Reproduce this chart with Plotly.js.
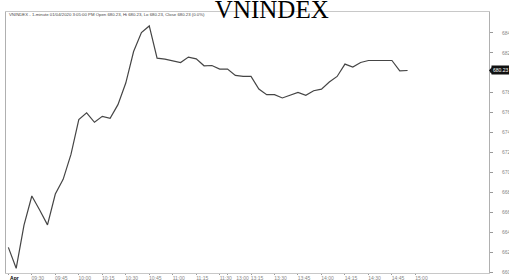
<!DOCTYPE html>
<html><head><meta charset="utf-8">
<script src="https://cdn.plot.ly/plotly-3.0.1.min.js"></script>
<style>html,body{margin:0;padding:0;background:#fff;overflow:hidden}#chart{width:509px;height:280px}</style>
</head><body><div id="chart"></div>
<script>
const chartTitle = "VNINDEX";
const headerText = "VNINDEX - 1-minute 01/04/2020 3:05:00 PM Open 680.23, Hi 680.23, Lo 680.23, Close 680.23 (0.0%)";

const times = [
  "09:15","09:20","09:25","09:30","09:35","09:40","09:45","09:50","09:55",
  "10:00","10:05","10:10","10:15","10:20","10:25","10:30","10:35","10:40",
  "10:45","10:50","10:55","11:00","11:05","11:10","11:15","11:20","11:25","11:30",
  "13:00","13:05","13:10","13:15","13:20","13:25","13:30","13:35","13:40",
  "13:45","13:50","13:55","14:00","14:05","14:10","14:15","14:20","14:25",
  "14:30","14:35","14:40","14:45","14:50","14:55"
];
const closeValues = [
  662.47, 660.37, 664.70, 667.63, 666.23, 664.73, 667.83, 669.30, 671.80,
  675.30, 675.97, 675.03, 675.63, 675.43, 676.80, 678.97, 682.13, 684.03,
  684.70, 681.47, 681.37, 681.17, 681.03, 681.57, 681.40, 680.70, 680.73, 680.37,
  680.37, 679.73, 679.63, 679.63, 678.37, 677.80, 677.80, 677.47, 677.73,
  678.03, 677.73, 678.20, 678.35, 679.07, 679.63, 680.87, 680.57, 681.03,
  681.23, 681.23, 681.23, 681.23, 680.20, 680.23
];
const tickTimes = ["09:15","09:30","09:45","10:00","10:15","10:30","10:45","11:00","11:15","11:30","13:00","13:15","13:30","13:45","14:00","14:15","14:30","14:45","15:00"];
const tickLabels = ["<b><span style=\"color:#000\">Apr</span></b>","09:30","09:45","10:00","10:15","10:30","10:45","11:00","11:15","11:30","&#160;&#160;&#160;&#160;&#160;&#160;&#160;&#160;&#160;&#160;&#160;&#160;&#160;13:00","13:15","13:30","13:45","14:00","14:15","14:30","14:45","15:00"];
const yTickValues = [660,662,664,666,668,670,672,674,676,678,680,682,684];
const lastClose = 680.23;

const tickPositions = tickTimes.map(t => { const i = times.indexOf(t); return i >= 0 ? i : times.length; });

const trace = {
  type: 'scatter', mode: 'lines',
  x: times, y: closeValues,
  line: {color: '#454545', width: 1.2},
  hoverinfo: 'skip'
};

const layout = {
  width: 509, height: 280,
  margin: {l: 6, r: 20, t: 12, b: 7, pad: 0},
  paper_bgcolor: '#fff', plot_bgcolor: '#fff',
  showlegend: false,
  title: {
    text: chartTitle,
    font: {family: 'Liberation Serif, Times New Roman, serif', size: 25, color: '#000'},
    x: 0.534, xanchor: 'center', xref: 'container',
    y: 0.967, yanchor: 'middle', yref: 'container'
  },
  xaxis: {
    type: 'category', categoryorder: 'array', categoryarray: times,
    range: [-0.3, 61.4],
    tickmode: 'array', tickvals: tickPositions, ticktext: tickLabels,
    tickangle: 0, ticklabelshift: 6, ticklabelstandoff: -1, ticks: 'outside', ticklen: 1, tickcolor: '#999',
    tickfont: {family: 'Liberation Sans, Arial, sans-serif', size: 5, color: '#888'},
    showgrid: false, zeroline: false,
    showline: true, linecolor: '#c8c8c8', linewidth: 1, mirror: true
  },
  yaxis: {
    side: 'right', range: [659.9, 686.1],
    tickmode: 'array', tickvals: yTickValues,
    ticktext: yTickValues.map(v => v === 680 ? '' : String(v)),
    ticks: 'outside', ticklen: 3, tickcolor: '#999', ticklabelstandoff: 8,
    tickfont: {family: 'Liberation Sans, Arial, sans-serif', size: 5, color: '#888'},
    showgrid: false, zeroline: false,
    showline: true, linecolor: '#b0b0b0', linewidth: 1, mirror: true
  },
  annotations: [
    {
      xref: 'paper', yref: 'paper', x: 0.002, y: 0.989, xanchor: 'left', yanchor: 'middle',
      text: headerText, showarrow: false,
      font: {family: 'Liberation Sans, Arial, sans-serif', size: 4.3, color: '#444'}
    },
    {
      xref: 'paper', yref: 'y', x: 1.004, y: lastClose, xanchor: 'left', yanchor: 'middle',
      text: lastClose.toFixed(2), showarrow: false, bgcolor: '#111', borderpad: 1,
      font: {family: 'Liberation Sans, Arial, sans-serif', size: 5, color: '#fff'}
    }
  ],
  shapes: [
    {
      type: 'path', xref: 'paper', yref: 'y',
      path: 'M 1.0 ' + lastClose + ' L 1.006 ' + (lastClose + 0.35) + ' L 1.006 ' + (lastClose - 0.35) + ' Z',
      fillcolor: '#111', line: {width: 0}
    }
  ]
};

Plotly.newPlot('chart', [trace], layout, {displayModeBar: false, staticPlot: true});
</script>
</body></html>
